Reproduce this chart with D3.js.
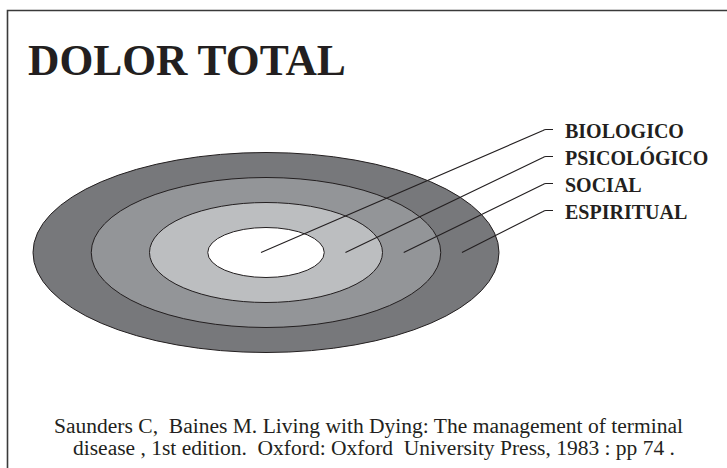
<!DOCTYPE html>
<html>
<head>
<meta charset="utf-8">
<script src="https://cdn.jsdelivr.net/npm/d3@7"></script>
<style>
  html, body { margin: 0; padding: 0; background: #fff; }
  svg { display: block; }
  text { white-space: pre; }
</style>
</head>
<body>
<svg id="chart" width="727" height="468"></svg>
<script>
// ---- data ----
const title = "DOLOR TOTAL";
const categories = ["BIOLOGICO", "PSICOLÓGICO", "SOCIAL", "ESPIRITUAL"];
// outer boundary of each layer (concentric rings, in ring units)
const layerOuter = [1, 2, 3, 4];
// point in each layer that the label line points to (ring units, along the major axis)
const anchorValues = [0, 1.45, 2.45, 3.45];
const layerColors = ["#ffffff", "#bcbec0", "#939598", "#77787b"];
const citation = [
  "Saunders C,  Baines M. Living with Dying: The management of terminal",
  "disease , 1st edition.  Oxford: Oxford  University Press, 1983 : pp 74 ."
];

// ---- layout ----
const svg = d3.select("#chart");
const W = 727, H = 468;
const cx = 266, cy = 252.5;
const serif = "'Liberation Serif', 'Times New Roman', serif";

const rxScale = d3.scaleLinear().domain([0, 4]).range([0, 233]);
const ryScale = d3.scaleLinear().domain([0, 4]).range([0, 100]);
const labelY = d3.scalePoint().domain(categories).range([138, 219]);

// frame (top and left edges)
svg.append("path")
  .attr("d", `M7.5,${H} L7.5,10.5 L${W},10.5`)
  .attr("fill", "none")
  .attr("stroke", "#3a3a3a")
  .attr("stroke-width", 1.6);

// title
svg.append("text")
  .attr("x", 28)
  .attr("y", 75)
  .attr("font-family", serif)
  .attr("font-weight", "bold")
  .attr("font-size", 43.5)
  .attr("fill", "#231f20")
  .text(title);

// rings, drawn outermost first
const rings = layerOuter.map((v, i) => ({v, color: layerColors[i]})).reverse();
svg.append("g").selectAll("ellipse")
  .data(rings)
  .join("ellipse")
  .attr("cx", cx)
  .attr("cy", cy)
  .attr("rx", d => rxScale(d.v))
  .attr("ry", d => ryScale(d.v))
  .attr("fill", d => d.color)
  .attr("stroke", "#231f20")
  .attr("stroke-width", 1);

// leader lines
const hookX0 = 543, hookX1 = 553;
const leaders = categories.map((c, i) => ({
  name: c,
  x0: cx + rxScale(anchorValues[i]) - 5,
  y0: cy,
  y1: labelY(c) - 8.5
}));
svg.append("g").selectAll("path")
  .data(leaders)
  .join("path")
  .attr("d", d => `M${d.x0},${d.y0} L${hookX0},${d.y1 + 1} Q${hookX0 + 1.5},${d.y1} ${hookX0 + 3},${d.y1} L${hookX1},${d.y1}`)
  .attr("fill", "none")
  .attr("stroke", "#231f20")
  .attr("stroke-width", 1.1);

// labels
svg.append("g").selectAll("text")
  .data(categories)
  .join("text")
  .attr("x", 565)
  .attr("y", d => labelY(d))
  .attr("font-family", serif)
  .attr("font-weight", "bold")
  .attr("font-size", 20)
  .attr("fill", "#231f20")
  .text(d => d);

// citation: two lines
const citeLayout = [{x: 54, len: 629}, {x: 73, len: 602}];
svg.append("g").selectAll("text")
  .data(citation)
  .join("text")
  .attr("x", (d, i) => citeLayout[i].x)
  .attr("y", (d, i) => 432.5 + i * 22.5)
  .attr("textLength", (d, i) => citeLayout[i].len)
  .attr("lengthAdjust", "spacingAndGlyphs")
  .attr("font-family", serif)
  .attr("font-size", 20)
  .attr("fill", "#231f20")
  .text(d => d);
</script>
</body>
</html>
